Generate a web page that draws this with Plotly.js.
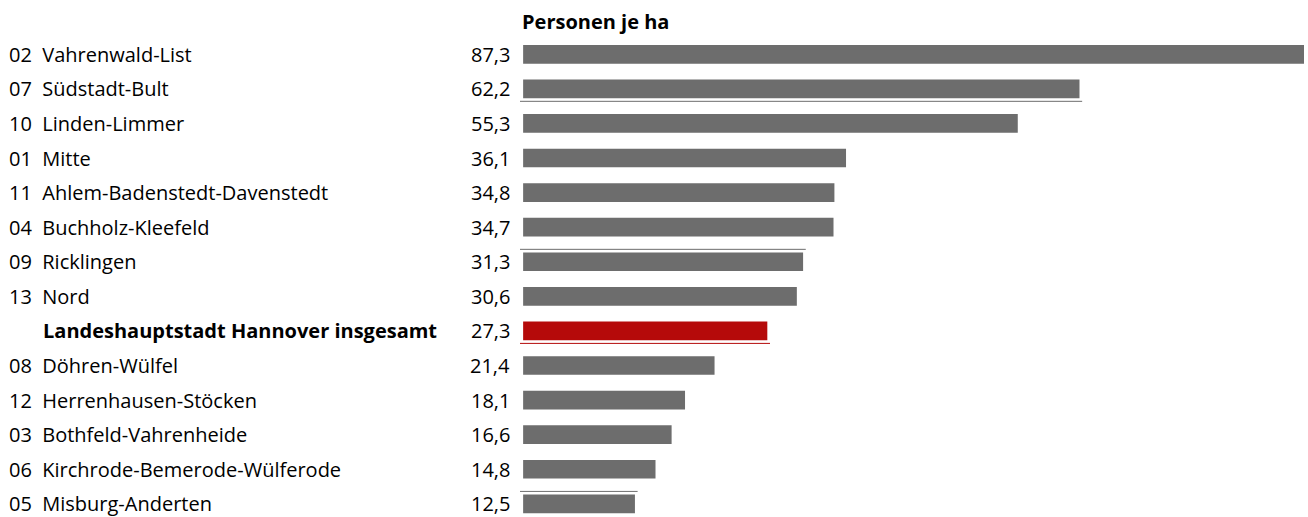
<!DOCTYPE html>
<html>
<head>
<meta charset="utf-8">
<script src="https://cdn.plot.ly/plotly-3.0.1.min.js"></script>
<style>
  html, body { margin: 0; padding: 0; background: #fff; }
  #chart { width: 1308px; height: 517px; }
</style>
</head>
<body>
<div id="chart"></div>
<script>
// Stadtbezirke, sorted as in the original
const districts = [
  "02 Vahrenwald-List",
  "07 Südstadt-Bult",
  "10 Linden-Limmer",
  "01 Mitte",
  "11 Ahlem-Badenstedt-Davenstedt",
  "04 Buchholz-Kleefeld",
  "09 Ricklingen",
  "13 Nord",
  "Landeshauptstadt Hannover insgesamt",
  "08 Döhren-Wülfel",
  "12 Herrenhausen-Stöcken",
  "03 Bothfeld-Vahrenheide",
  "06 Kirchrode-Bemerode-Wülferode",
  "05 Misburg-Anderten"
];
const density = [87.3, 62.2, 55.3, 36.1, 34.8, 34.7, 31.3, 30.6, 27.3, 21.4, 18.1, 16.6, 14.8, 12.5];
const totalLabel = "Landeshauptstadt Hannover insgesamt";

const GREY = "#6d6d6d";
const RED = "#b50a0a";
const FONT = "'Open Sans', sans-serif";

const colors = districts.map(d => d === totalLabel ? RED : GREY);

const trace = {
  type: "bar",
  orientation: "h",
  x: density,
  y: districts,
  marker: { color: colors },
  width: 0.54,
  hoverinfo: "skip"
};

// left column: names, middle column: values
let annotations = [];
districts.forEach((d, i) => {
  const isTotal = d === totalLabel;
  // the number and the name sit a bit further apart in the original
  const shown = isTotal ? "<b>" + d + "</b>" : d.replace(" ", "\u00a0 ");
  annotations.push({
    xref: "paper", yref: "y",
    x: isTotal ? -(520 - 41) / 784 : -(520 - 7) / 784,
    y: d, xanchor: "left", yanchor: "middle",
    text: shown,
    showarrow: false,
    font: { family: FONT, size: 20, color: "#000" }
  });
  annotations.push({
    xref: "paper", yref: "y",
    x: -(520 - 512) / 784,
    y: d, xanchor: "right", yanchor: "middle",
    text: density[i].toFixed(1).replace(".", ","),
    showarrow: false,
    font: { family: FONT, size: 20, color: "#000" }
  });
});

// thin rules that sit between some rows in the original
function rule(idx, side, color) {
  return {
    type: "line", xref: "x", yref: "y",
    x0: -0.35, x1: density[idx] + 0.3,
    y0: idx + side * 0.36, y1: idx + side * 0.36,
    line: { color: color, width: 1 }
  };
}
const shapes = [
  rule(1, 1, GREY),
  rule(6, -1, GREY),
  rule(8, 1, RED),
  rule(13, -1, GREY)
];

const layout = {
  width: 1308, height: 517,
  margin: { l: 520, r: 4, t: 37, b: 0 },
  paper_bgcolor: "#fff",
  plot_bgcolor: "#fff",
  showlegend: false,
  title: {
    text: "<b>Personen je ha</b>",
    xref: "container", yref: "container",
    x: 522 / 1308, xanchor: "left",
    y: 1 - 22 / 517, yanchor: "middle",
    font: { family: FONT, size: 20, color: "#000" }
  },
  xaxis: {
    range: [-0.35, 87.3],
    visible: false,
    fixedrange: true
  },
  yaxis: {
    type: "category",
    categoryorder: "array",
    categoryarray: districts,
    range: [13.38, -0.5],
    visible: false,
    fixedrange: true
  },
  annotations: annotations,
  shapes: shapes
};

Plotly.newPlot("chart", [trace], layout, { displayModeBar: false, staticPlot: true });
</script>
</body>
</html>
